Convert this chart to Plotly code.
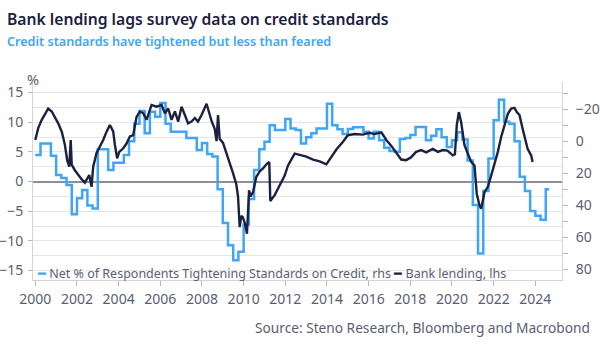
import plotly.graph_objects as go

# ---------------- data ----------------
# Bank lending, % y/y (left axis)
lend_t = [2000.00, 2000.14, 2000.31, 2000.47, 2000.62, 2000.79, 2000.94, 2001.10, 2001.27, 2001.42,
          2001.53, 2001.63, 2001.70, 2001.75, 2001.90, 2002.06, 2002.22, 2002.38, 2002.49, 2002.59,
          2002.70, 2002.78, 2002.94, 2003.10, 2003.26, 2003.42, 2003.58, 2003.66, 2003.74, 2003.82,
          2003.93, 2004.03, 2004.22, 2004.38, 2004.54, 2004.70, 2004.86, 2005.02, 2005.18, 2005.34,
          2005.58, 2005.82, 2006.06, 2006.22, 2006.38, 2006.54, 2006.70, 2006.86, 2007.02, 2007.18,
          2007.33, 2007.50, 2007.66, 2007.81, 2007.98, 2008.22, 2008.46, 2008.61, 2008.70, 2008.77,
          2008.85, 2009.01, 2009.18, 2009.33, 2009.49, 2009.65, 2009.73, 2009.81, 2009.89, 2009.96,
          2010.05, 2010.16, 2010.26, 2010.33, 2010.45, 2010.61, 2010.77, 2010.93, 2011.09, 2011.23,
          2011.28, 2011.49, 2011.73, 2011.97, 2012.13, 2012.29, 2012.45, 2012.69, 2013.01, 2013.33,
          2013.65, 2013.97, 2014.21, 2014.45, 2014.77, 2015.00, 2015.33, 2015.72, 2016.05, 2016.28,
          2016.61, 2016.85, 2017.09, 2017.33, 2017.56, 2017.80, 2018.04, 2018.28, 2018.52, 2018.76,
          2019.08, 2019.32, 2019.56, 2019.78, 2020.04, 2020.14, 2020.23, 2020.33, 2020.44, 2020.60,
          2020.76, 2020.92, 2021.08, 2021.19, 2021.32, 2021.40, 2021.56, 2021.72, 2021.88, 2022.04,
          2022.20, 2022.36, 2022.52, 2022.68, 2022.84, 2023.00, 2023.11, 2023.24, 2023.39, 2023.52,
          2023.63, 2023.80, 2023.87]
lend_v = [7.0, 9.0, 10.4, 11.5, 12.3, 11.8, 10.9, 9.8, 8.4, 6.2,
          3.6, 2.5, 7.0, 2.8, 1.9, 1.1, 0.4, -0.2, 0.5, 1.1,
          -0.9, 2.5, 4.8, 5.9, 7.0, 8.4, 9.5, 9.0, 8.4, 6.2,
          3.9, 5.0, 5.6, 6.4, 7.6, 7.8, 10.9, 11.8, 11.5, 10.4,
          12.9, 12.6, 12.9, 11.5, 12.3, 10.4, 11.8, 10.1, 12.6, 11.2,
          9.8, 10.1, 10.7, 10.1, 11.2, 13.1, 10.2, 8.9, 6.8, 11.2,
          7.2, 6.5, 4.8, 3.3, 1.4, -0.5, -2.5, -7.7, -5.8, -6.0,
          -6.9, -8.8, -1.5, -2.5, -1.8, 0.8, 1.7, 2.2, 2.9, 3.3,
          -3.3, -2.3, -0.7, 1.0, 2.7, 3.8, 4.7, 4.5, 4.2, 3.7,
          3.4, 2.9, 4.2, 5.4, 6.7, 7.8, 8.0, 7.9, 8.2, 8.0,
          8.3, 7.0, 6.0, 4.8, 3.7, 3.6, 4.1, 5.0, 5.3, 4.9,
          5.5, 5.0, 5.3, 5.2, 4.4, 4.6, 9.5, 11.7, 10.0, 6.1,
          4.7, 3.3, 2.7, -2.1, -4.0, -4.6, -1.8, -0.9, 1.0, 3.0,
          5.0, 7.5, 9.7, 11.4, 12.3, 12.4, 11.7, 11.2, 8.9, 6.9,
          5.5, 4.4, 3.3]

# Net % of respondents tightening standards (right axis, reversed), quarterly from 2000 Q1
survey_start = 2000.0
survey_step = 0.25
survey_v = [8.5, 1.3, 1.3, 9.0, 21.0, 23.0, 27.3, 45.6, 35.6, 30.4,
            40.2, 42.0, 5.0, 5.0, 18.0, 13.4, 13.4, 8.6, 0.0, -11.0,
            -19.0, -5.0, -18.5, -15.4, -24.0, -11.0, -6.0, -6.0, -6.0, -2.0,
            -2.0, 5.4, 1.0, 8.0, 9.5, 30.0, 51.0, 65.0, 74.3, 69.0,
            52.0, 36.0, 18.0, 5.0, 0.3, -10.0, -7.0, -7.0, -14.0, -8.0,
            -7.0, 1.4, -2.5, -5.0, -8.0, -8.0, -23.5, -10.0, -7.5, -4.5,
            -7.7, -8.8, -8.8, -6.0, -1.7, -6.0, -0.7, 4.0, 6.0, 6.6,
            -1.5, -2.0, -4.0, -9.0, -9.0, -0.7, -3.5, -7.5, -2.5, 3.5,
            -0.7, -5.6, -1.2, 12.0, 39.8, 70.2, 31.0, 10.8, -13.2, -26.0,
            -12.2, -11.0, 0.0, 22.2, 31.0, 43.5, 46.5, 49.0, 30.0]
survey_end = 2024.667

x_ticks = list(range(2000, 2025, 2))
left_ticks = [-15, -10, -5, 0, 5, 10, 15]
right_ticks = [-20, 0, 20, 40, 60, 80]

# ---------------- styling ----------------
W, H = 600, 344
ML, MR, MT, MB = 33, 38, 82, 64
PW, PH = W - ML - MR, H - MT - MB
FONT = "Noto Sans"
BLUE = "#3ea6f5"
NAVY = "#1c2140"
GREY_TXT = "#5a5e72"
AXIS = "#d4d4d8"
GRID = "#e6e6e8"


def px(x):
    return (x - ML) / PW


def py(y):
    return (H - MB - y) / PH


survey_t = [survey_start + i * survey_step for i in range(len(survey_v))] + [survey_end]
survey_y = survey_v + [survey_v[-1]]

fig = go.Figure()
fig.add_trace(go.Scatter(x=survey_t, y=survey_y, mode="lines", line=dict(color=BLUE, width=2.5, shape="hv"),
                         yaxis="y", name="Net % of Respondents Tightening Standards on Credit, rhs",
                         showlegend=False))
fig.add_trace(go.Scatter(x=lend_t, y=lend_v, mode="lines", line=dict(color=NAVY, width=2.4),
                         yaxis="y2", name="Bank lending, lhs", showlegend=False))

tickfont = dict(family=FONT, size=14, color=GREY_TXT)

fig.update_layout(
    width=W, height=H,
    margin=dict(l=ML, r=MR, t=MT, b=MB, autoexpand=False),
    paper_bgcolor="white", plot_bgcolor="white",
    showlegend=False,
    xaxis=dict(range=[1999.89, 2025.28], tickvals=x_ticks, ticktext=[str(v) for v in x_ticks],
               automargin=False,
               showgrid=False, zeroline=False, showline=True, linecolor=AXIS, linewidth=1,
               ticks="outside", ticklen=5, tickcolor="#b8b8be", tickfont=tickfont,
               ticklabelstandoff=1),
    yaxis=dict(side="right", range=[86.69, -37.06], tickvals=right_ticks, automargin=False,
               showgrid=False, zeroline=False, showline=True, linecolor=AXIS, linewidth=1,
               ticks="outside", ticklen=5, tickcolor="#b8b8be", tickfont=tickfont,
               ticklabelstandoff=5,
               minor=dict(dtick=10, tick0=0, ticks="outside", ticklen=5, tickcolor="#b8b8be",
                          showgrid=False)),
    yaxis2=dict(side="left", overlaying="y", range=[-16.6, 16.77], tickvals=left_ticks, automargin=False,
                showgrid=True, gridcolor=GRID, gridwidth=1,
                zeroline=True, zerolinecolor="#8d909c", zerolinewidth=1.6,
                showline=True, linecolor=AXIS, linewidth=1,
                ticks="outside", ticklen=4, tickcolor="#b8b8be", tickfont=tickfont,
                ticklabelstandoff=2,
                minor=dict(dtick=2.5, tick0=0, showgrid=True, gridcolor=GRID, gridwidth=1, ticks="")),
)

ann = []
ann.append(dict(text="Bank lending lags survey data on credit standards", x=px(5), y=py(19),
                xref="paper", yref="paper", xanchor="left", yanchor="middle", showarrow=False,
                font=dict(family=FONT, size=15.7, color=NAVY, weight=600)))
ann.append(dict(text="Credit standards have tightened but less than feared", x=px(5), y=py(41),
                xref="paper", yref="paper", xanchor="left", yanchor="middle", showarrow=False,
                font=dict(family=FONT, size=12.6, color=BLUE, weight=600)))
ann.append(dict(text="%", x=px(33), y=py(79), xref="paper", yref="paper", xanchor="center",
                yanchor="middle", showarrow=False, font=dict(family=FONT, size=14.5, color=GREY_TXT)))
ann.append(dict(text="Source: Steno Research, Bloomberg and Macrobond", x=px(592), y=py(327),
                xref="paper", yref="paper", xanchor="right", yanchor="middle", showarrow=False,
                font=dict(family=FONT, size=13.7, color=GREY_TXT)))
legend_txt = (f'<span style="color:{BLUE}">━</span> Net % of Respondents Tightening Standards on Credit, rhs '
              f'<span style="color:{NAVY}">━</span> Bank lending, lhs')
ann.append(dict(text=legend_txt, x=px(35), y=py(273), xref="paper", yref="paper", xanchor="left",
                yanchor="middle", showarrow=False, font=dict(family=FONT, size=12.5, color=GREY_TXT)))
fig.update_layout(annotations=ann)

fig.write_html("out.html")
